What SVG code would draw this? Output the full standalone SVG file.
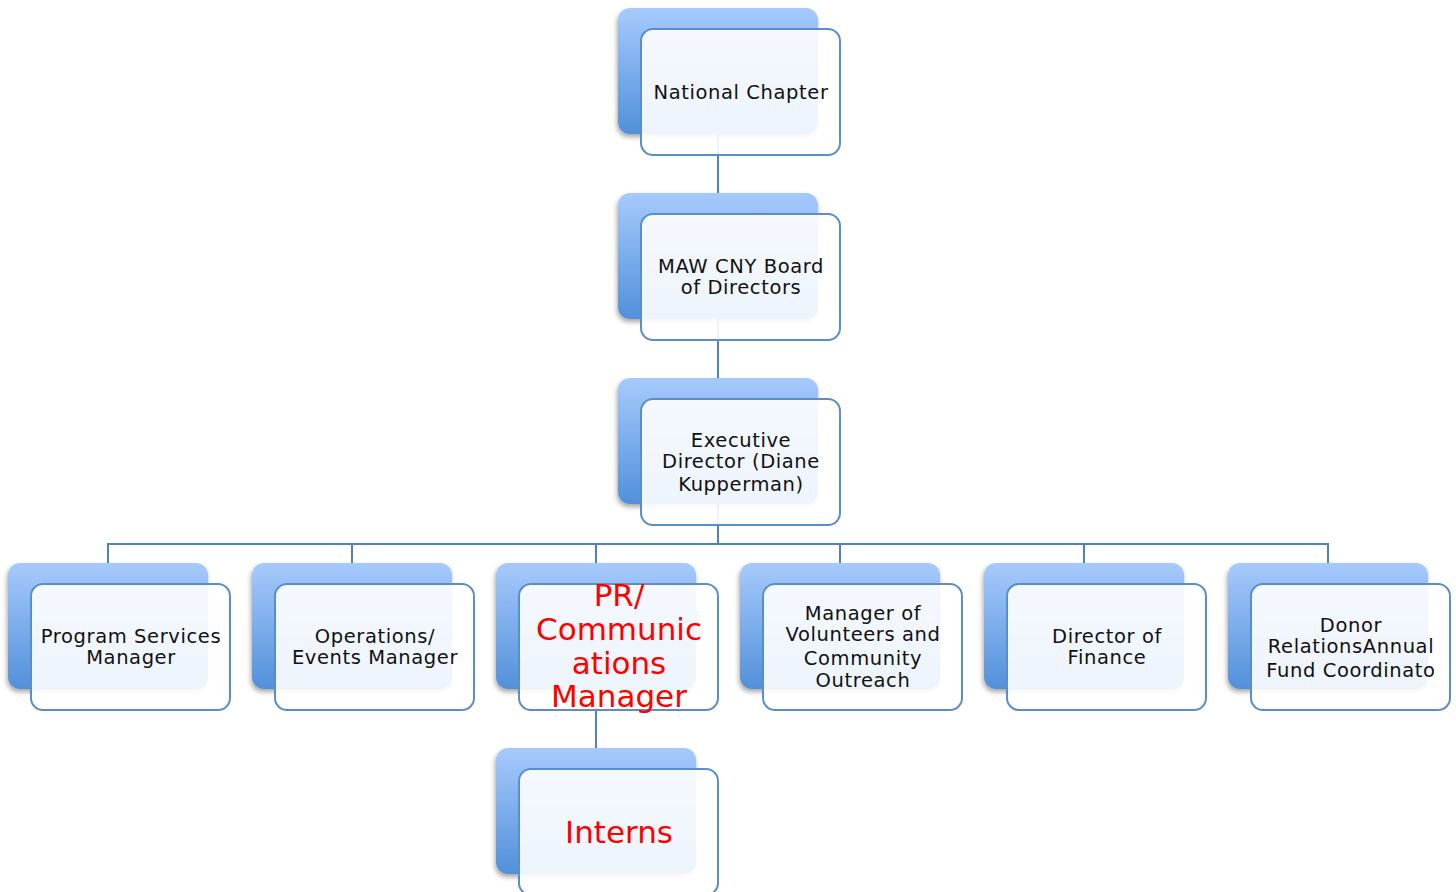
<svg xmlns="http://www.w3.org/2000/svg" width="1456" height="892" viewBox="0 0 1456 892">
  <defs>
    <linearGradient id="backFill" x1="0" y1="0" x2="0" y2="1">
      <stop offset="0" stop-color="#a7cafd"/>
      <stop offset="1" stop-color="#5190da"/>
    </linearGradient>
    <filter id="shadow" x="-10%" y="-10%" width="120%" height="125%">
      <feDropShadow dx="-1" dy="3" stdDeviation="2.5" flood-color="#000" flood-opacity="0.35"/>
    </filter>
    <!-- stacked card: blue back plate + white front panel -->
    <g id="card">
      <rect x="0" y="0" width="200" height="126" rx="12" fill="url(#backFill)" filter="url(#shadow)"/>
    </g>
  </defs>
  <style>
    .front { fill: #ffffff; fill-opacity: 0.9; stroke: #5b8ec6; stroke-width: 2; }
    .link { fill: none; stroke: #4f81bd; stroke-width: 2; }
    .label { font-family: "DejaVu Sans", "Liberation Sans", sans-serif; font-size: 19.5px; letter-spacing: 0.6px; fill: #111; text-anchor: middle; }
    .hot { font-family: "DejaVu Sans", "Liberation Sans", sans-serif; font-size: 31px; fill: #ff0000; text-anchor: middle; }
  </style>

  <rect width="1456" height="892" fill="#ffffff"/>

  <!-- connectors sit under the translucent front panels -->
  <g id="connectors">
    <path class="link" d="M718 135 V193"/>
    <path class="link" d="M718 318 V378"/>
    <path class="link" d="M718 503 V544"/>
    <path class="link" d="M108 563 V544 H1328 V563"/>
    <path class="link" d="M352 544 V563"/>
    <path class="link" d="M596 544 V563"/>
    <path class="link" d="M840 544 V563"/>
    <path class="link" d="M1084 544 V563"/>
    <path class="link" d="M596 688 V748"/>
  </g>

  <g id="national-chapter">
    <use href="#card" x="618" y="8"/>
    <rect class="front" x="641" y="29" width="199" height="126" rx="12"/>
    <text class="label" x="741" y="99">National Chapter</text>
  </g>

  <g id="board">
    <use href="#card" x="618" y="193"/>
    <rect class="front" x="641" y="214" width="199" height="126" rx="12"/>
    <text class="label" x="741" y="273">MAW CNY Board</text>
    <text class="label" x="741" y="294">of Directors</text>
  </g>

  <g id="executive-director">
    <use href="#card" x="618" y="378"/>
    <rect class="front" x="641" y="399" width="199" height="126" rx="12"/>
    <text class="label" x="741" y="447">Executive</text>
    <text class="label" x="741" y="468">Director (Diane</text>
    <text class="label" x="741" y="491">Kupperman)</text>
  </g>

  <g id="program-services">
    <use href="#card" x="8" y="563"/>
    <rect class="front" x="31" y="584" width="199" height="126" rx="12"/>
    <text class="label" x="131" y="643">Program Services</text>
    <text class="label" x="131" y="664">Manager</text>
  </g>

  <g id="operations">
    <use href="#card" x="252" y="563"/>
    <rect class="front" x="275" y="584" width="199" height="126" rx="12"/>
    <text class="label" x="375" y="643">Operations/</text>
    <text class="label" x="375" y="664">Events Manager</text>
  </g>

  <g id="pr-communications">
    <use href="#card" x="496" y="563"/>
    <rect class="front" x="519" y="584" width="199" height="126" rx="12"/>
    <text class="hot" x="619" y="606">PR/</text>
    <text class="hot" x="619" y="640">Communic</text>
    <text class="hot" x="619" y="674">ations</text>
    <text class="hot" x="619" y="707">Manager</text>
  </g>

  <g id="volunteers">
    <use href="#card" x="740" y="563"/>
    <rect class="front" x="763" y="584" width="199" height="126" rx="12"/>
    <text class="label" x="863" y="620">Manager of</text>
    <text class="label" x="863" y="641">Volunteers and</text>
    <text class="label" x="863" y="665">Community</text>
    <text class="label" x="863" y="687">Outreach</text>
  </g>

  <g id="finance">
    <use href="#card" x="984" y="563"/>
    <rect class="front" x="1007" y="584" width="199" height="126" rx="12"/>
    <text class="label" x="1107" y="643">Director of</text>
    <text class="label" x="1107" y="664">Finance</text>
  </g>

  <g id="donor-relations">
    <use href="#card" x="1228" y="563"/>
    <rect class="front" x="1251" y="584" width="199" height="126" rx="12"/>
    <text class="label" x="1351" y="632">Donor</text>
    <text class="label" x="1351" y="653">RelationsAnnual</text>
    <text class="label" x="1351" y="677">Fund Coordinato</text>
  </g>

  <g id="interns">
    <use href="#card" x="496" y="748"/>
    <rect class="front" x="519" y="769" width="199" height="126" rx="12"/>
    <text class="hot" x="619" y="843">Interns</text>
  </g>
</svg>
